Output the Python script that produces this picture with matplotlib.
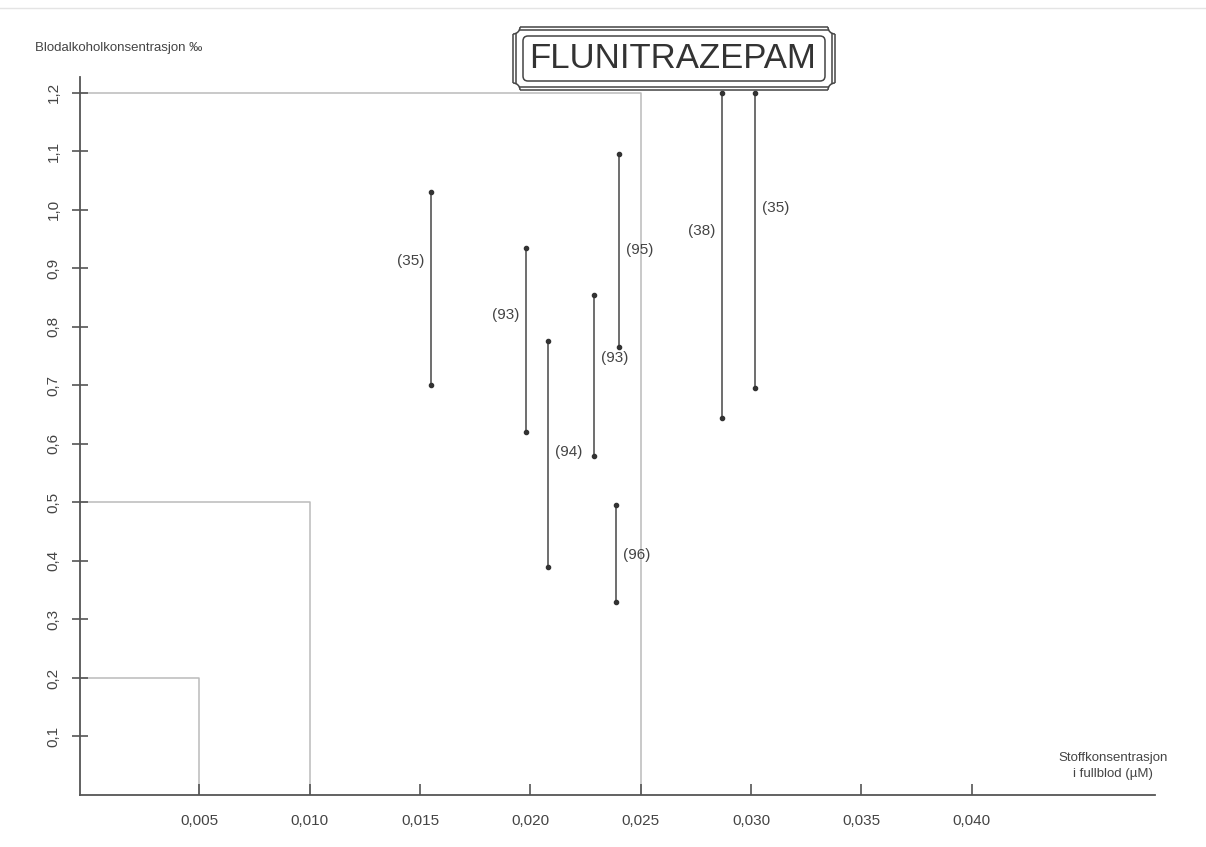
import matplotlib
matplotlib.use('Agg')
import matplotlib.pyplot as plt
from matplotlib.patches import Rectangle, Arc, Circle, FancyBboxPatch
from matplotlib.lines import Line2D

plt.rcParams.update({
    'font.family': ['Liberation Sans', 'DejaVu Sans'],
    'font.size': 11,
    'text.color': '#444444',
})

# reference numbers and measured ranges for each study
refs = ['(35)', '(93)', '(94)', '(93)', '(95)', '(96)', '(38)', '(35)']
conc = [0.0155, 0.0198, 0.0208, 0.0229, 0.0240, 0.0239, 0.0287, 0.0302]
bac_low = [0.70, 0.62, 0.39, 0.58, 0.765, 0.33, 0.645, 0.695]
bac_high = [1.03, 0.935, 0.775, 0.855, 1.095, 0.495, 1.20, 1.20]
label_y = [0.913, 0.821, 0.587, 0.746, 0.932, 0.41, 0.963, 1.003]

# legal limit boxes (concentration, blood alcohol)
limit_conc = [0.005, 0.010, 0.025]
limit_bac = [0.2, 0.5, 1.2]

xticks = [0.005, 0.010, 0.015, 0.020, 0.025, 0.030, 0.035, 0.040]
yticks = [0.1, 0.2, 0.3, 0.4, 0.5, 0.6, 0.7, 0.8, 0.9, 1.0, 1.1, 1.2]

label_side = ['left', 'left', 'right', 'right', 'right', 'right', 'left', 'right']

W, H = 1206, 847
fig = plt.figure(figsize=(W / 100, H / 100), dpi=100)
ax = fig.add_axes([80 / W, 52 / H, 1075 / W, 718 / H])
ax.patch.set_visible(False)
x0 = -0.0004  # the scanned axis sits a little left of zero
ax.set_xlim(x0, 0.0483)
ax.set_ylim(0, 1.227)

axis_col = '#555555'
for s in ['top', 'right']:
    ax.spines[s].set_visible(False)
for s in ['left', 'bottom']:
    ax.spines[s].set_color(axis_col)
    ax.spines[s].set_linewidth(1.3)

# limit boxes
for c, b in zip(limit_conc, limit_bac):
    ax.plot([x0, c, c], [b, b, 0], color='#bbbbbb', lw=1.1, zorder=1)

# ranges
for x, lo, hi in zip(conc, bac_low, bac_high):
    ax.plot([x, x], [lo, hi], color='#555555', lw=1.2, marker='o', ms=3,
            markerfacecolor='#333333', markeredgecolor='#333333', zorder=3)

for x, y, t, side in zip(conc, label_y, refs, label_side):
    off = -5 if side == 'left' else 5
    ax.annotate(t, (x, y), xytext=(off, 0), textcoords='offset points',
                ha='right' if side == 'left' else 'left', va='center',
                fontsize=11, color='#444444')

ax.set_xticks(xticks)
ax.set_xticklabels([f"{v:.3f}".replace('.', ',') for v in xticks])
ax.set_yticks(yticks)
ax.set_yticklabels([f"{v:.1f}".replace('.', ',') for v in yticks],
                   rotation=90, va='center')
ax.tick_params(axis='x', direction='in', length=8, width=1.2, color=axis_col,
               pad=14, labelsize=11, labelcolor='#444444')
ax.tick_params(axis='y', direction='inout', length=12, width=1.2, color=axis_col,
               pad=8, labelsize=11, labelcolor='#444444')

# axis titles
fig.text(35 / W, 1 - 48 / H, 'Blodalkoholkonsentrasjon \u2030', ha='left',
         va='center', fontsize=9.5, color='#444444')
fig.text(1113 / W, 1 - 766 / H, 'Stoffkonsentrasjon\ni fullblod (\u00b5M)',
         ha='center', va='center', fontsize=9.5, color='#444444',
         linespacing=1.4)

# title box, drawn in pixel units (inches * 100)
px = fig.dpi_scale_trans
box_col = '#444444'
left, right, bot, top = 5.13, 8.35, 7.57, 8.20
for inset in (0.0, 0.03):
    fig.add_artist(Rectangle((left + inset, bot + inset),
                             right - left - 2 * inset, top - bot - 2 * inset,
                             transform=px, fill=False, edgecolor=box_col,
                             lw=1.1, zorder=-3))
r = 0.07
for cx, cy, a in [(left, bot, 0), (right, bot, 90), (right, top, 180), (left, top, 270)]:
    fig.add_artist(Circle((cx, cy), r, transform=px, facecolor='white',
                          edgecolor='none', zorder=-2))
    fig.add_artist(Arc((cx, cy), 2 * r, 2 * r, theta1=a, theta2=a + 90,
                       transform=px, edgecolor=box_col, lw=1.1, zorder=-1))
fig.add_artist(FancyBboxPatch((5.23, 7.66), 3.02, 0.45, transform=px,
                              boxstyle='round,pad=0,rounding_size=0.05',
                              fill=False, edgecolor=box_col, lw=1.1, zorder=-1))
fig.text(673 / W, 1 - 58 / H, 'FLUNITRAZEPAM', ha='center', va='center',
         fontsize=25, color='#333333', zorder=7)

# faint scan edge at the top
fig.add_artist(Line2D([0, 1], [1 - 8 / H, 1 - 8 / H], transform=fig.transFigure,
                      color='#e4e4e4', lw=1))

fig.savefig('out.png', dpi=100)
